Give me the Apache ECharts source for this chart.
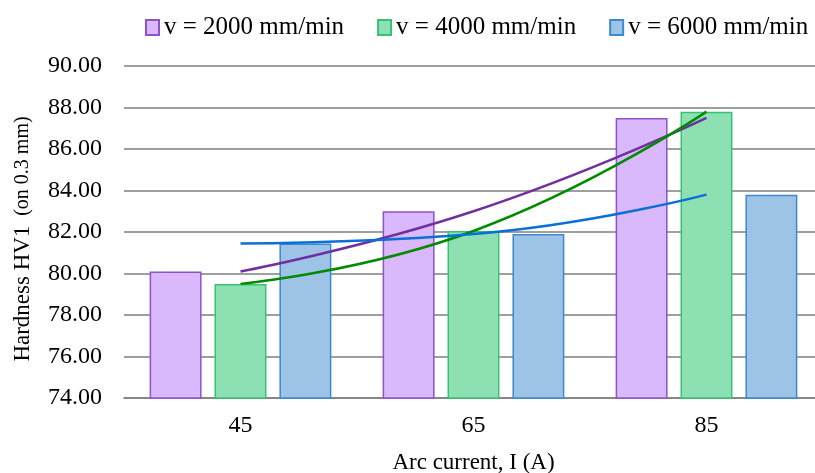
<!DOCTYPE html>
<html>
<head>
<meta charset="utf-8">
<script src="https://cdn.jsdelivr.net/npm/echarts@6/dist/echarts.min.js"></script>
<style>
html,body{margin:0;padding:0;background:#fff;}
#c{width:815px;height:473px;}
</style>
</head>
<body>
<div id="c"></div>
<script>
const categories = ['45', '65', '85'];
const seriesNames = ['v = 2000 mm/min', 'v = 4000 mm/min', 'v = 6000 mm/min'];
const v2000 = [80.1, 83.0, 87.5];
const v4000 = [79.5, 82.05, 87.8];
const v6000 = [81.45, 81.9, 83.8];
const yTicks = { min: 74, max: 90, interval: 2 };

const FONT = '"Liberation Serif", "Times New Roman", serif';
const fills = ['#D9B8FB', '#8DE0B2', '#9DC3E6'];
const borders = ['#9152C9', '#35C273', '#3C89D0'];
const trendColors = ['#7030A0', '#008A00', '#0A6FD6'];
const values = [v2000, v4000, v6000];

const chart = echarts.init(document.getElementById('c'), null, { renderer: 'canvas' });

const bars = values.map((d, i) => ({
  name: seriesNames[i],
  type: 'bar',
  data: d,
  barGap: '25%',
  barCategoryGap: '22%',
  itemStyle: { color: fills[i], borderColor: borders[i], borderWidth: 1.5 },
  z: 2
}));
const trends = values.map((d, i) => ({
  name: 'trend ' + i,
  type: 'line',
  data: d,
  smooth: 0.5,
  showSymbol: false,
  symbol: 'none',
  lineStyle: { color: trendColors[i], width: 2.5 },
  z: 5,
  silent: true
}));

chart.setOption({
  animation: false,
  textStyle: { fontFamily: FONT },
  legend: {
    data: seriesNames,
    left: 140,
    top: 10,
    itemWidth: 13,
    itemHeight: 15,
    itemGap: 33,
    textStyle: { fontFamily: FONT, fontSize: 25, color: '#000' },
    icon: 'rect'
  },
  grid: { left: 124, top: 66, height: 332, width: 699, outerBoundsMode: 'none', containLabel: false },
  xAxis: {
    type: 'category',
    data: categories,
    name: 'Arc current, I (A)',
    nameLocation: 'middle',
    nameGap: 53,
    nameTextStyle: { fontFamily: FONT, fontSize: 23, color: '#000' },
    axisLine: { lineStyle: { color: '#7f7f7f', width: 1.5 } },
    axisTick: { show: false },
    axisLabel: { fontFamily: FONT, fontSize: 24, color: '#000', margin: 16 }
  },
  yAxis: {
    type: 'value',
    min: yTicks.min,
    max: yTicks.max,
    interval: yTicks.interval,
    name: '{a|Hardness HV1 }{b|(on 0.3 mm)}',
    nameLocation: 'middle',
    nameGap: 90,
    nameRotate: 90,
    nameTextStyle: {
      rich: {
        a: { fontFamily: FONT, fontSize: 23, color: '#000', padding: [0, 4, 0, 0] },
        b: { fontFamily: FONT, fontSize: 20, color: '#000', padding: [0, 14, 0, 0] }
      }
    },
    axisLine: { show: false },
    axisTick: { show: false },
    splitLine: { lineStyle: { color: '#7f7f7f', width: 1.5 } },
    axisLabel: {
      fontFamily: FONT, fontSize: 24, color: '#000', margin: 22,
      formatter: v => v.toFixed(2)
    }
  },
  series: [...bars, ...trends]
});
</script>
</body>
</html>
